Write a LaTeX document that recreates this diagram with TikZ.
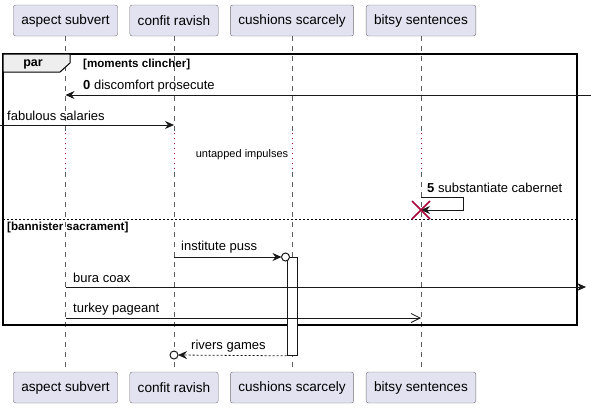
\documentclass[tikz,border=0pt]{standalone}
\usepackage{fontspec}
\setmainfont{Liberation Sans}
\usetikzlibrary{arrows.meta,
                positioning}
\definecolor{partfill}{HTML}{E2E2F0}
\definecolor{partline}{HTML}{181818}
\definecolor{crimson}{HTML}{A80036}
\definecolor{tabfill}{HTML}{EEEEEE}
\tikzset{participant/.style={draw=partline!60, fill=partfill, rounded corners=2.5pt,
           minimum height=31pt, inner xsep=8pt, font=\fontsize{13.6}{15}\selectfont},
         lifeline/.style={draw=partline!70, line width=0.5pt, dash pattern=on 5pt off 5pt},
         delayline/.style={draw=crimson, line width=0.6pt, dash pattern=on 1pt off 4pt},
         msg/.style={draw=partline, line width=0.8pt, -{Stealth[length=9pt,width=8pt,inset=3pt]}},
         openmsg/.style={draw=partline, line width=0.8pt, -{Straight Barb[length=9pt,width=9pt]}},
         replymsg/.style={msg, dash pattern=on 2pt off 2pt},
         msglabel/.style={anchor=west, inner sep=0pt, font=\fontsize{13}{15}\selectfont},
         guardlabel/.style={anchor=west, inner sep=0pt, font=\fontsize{11.6}{13}\selectfont\bfseries},
         endcircle/.style={draw=partline, line width=1pt, fill=white}}
\begin{document}
\begin{tikzpicture}[x=1pt, y=-1pt]
 \useasboundingbox (0,0) rectangle (591,408);
 % participants
 \node[participant] (asT) at (65.5,20.5) {aspect subvert};
 \node[participant] (crT) at (174,20.5) {confit ravish};
 \node[participant] (csT) at (292,20.5) {cushions scarcely};
 \node[participant] (bsT) at (421,20.5) {bitsy sentences};
 \node[participant] (asB) at (65.5,387.5) {aspect subvert};
 \node[participant] (crB) at (174,387.5) {confit ravish};
 \node[participant] (csB) at (292,387.5) {cushions scarcely};
 \node[participant] (bsB) at (421,387.5) {bitsy sentences};
 % message rows
 \coordinate (y0) at (0,95);
 \coordinate (y1) at (0,125);
 \coordinate (d1) at (0,133);
 \coordinate (d2) at (0,172);
 \coordinate (y5) at (0,197);
 \coordinate (y5e) at (0,210);
 \coordinate (y6) at (0,257);
 \coordinate (y7) at (0,287);
 \coordinate (y8) at (0,318);
 \coordinate (y9) at (0,355);
 \coordinate (rgt) at (591,0);
 \coordinate (lft) at (0,0);
 % lifelines
 \foreach \p in {as,cr,cs,bs}
   {\draw[lifeline] (\p T.south) -- (\p T |- d1);
    \draw[delayline] (\p T |- d1) -- (\p T |- d2);
    \draw[lifeline] (\p T |- d2) -- (\p B.north);}
 % par frame
 \draw[line width=1.5pt] (3,54) rectangle (577,325);
 \draw[line width=1pt, fill=tabfill] (3,54) -- (70,54) -- (70,63) -- (60,72) -- (3,72) -- cycle;
 \node[font=\fontsize{12.5}{14}\selectfont\bfseries, inner sep=0pt] (par) at (33,64) {par};
 \node[guardlabel] (g1) at (83,64) {[moments clincher]};
 \draw[line width=0.6pt, dash pattern=on 2pt off 2pt] (3,219) -- (577,219);
 \node[guardlabel] (g2) at (7,227) {[bannister sacrament]};
 % messages
 \draw[msg] (rgt |- y0) -- (asT |- y0);
 \node[msglabel] (m0) at (83,86) {\textbf{0} discomfort prosecute};
 \draw[msg] (lft |- y1) -- (crT |- y1);
 \node[msglabel] (m1) at (7,116) {fabulous salaries};
 \node[inner sep=0pt, font=\fontsize{11}{13}\selectfont] (dl) at (242,155) {untapped impulses};
 \draw[msg] (bsT |- y5) -- ++(42,0) -- ++(0,13) -- (bsT |- y5e);
 \node[msglabel] (m5) at (427,188) {\textbf{5} substantiate cabernet};
 \draw[crimson, line width=1.5pt] (bsT |- y5e) ++(-9,-9) -- ++(18,18)
                                   (bsT |- y5e) ++(9,-9) -- ++(-18,18);
 \node[draw=partline, line width=0.8pt, fill=white, minimum width=10pt, minimum height=98pt,
       inner sep=0pt, anchor=north] (act) at (csT |- y6) {};
 \draw[msg] (crT |- y6) -- ([xshift=-10.5pt]csT |- y6);
 \draw[endcircle] ([xshift=-6.5pt]csT |- y6) circle (4);
 \node[msglabel] (m6) at (181,247) {institute puss};
 \draw[msg] (asT |- y7) -- ([xshift=-5pt]rgt |- y7);
 \node[msglabel] (m7) at (73,278) {bura coax};
 \draw[openmsg] (asT |- y8) -- (bsT |- y8);
 \node[msglabel] (m8) at (73,309) {turkey pageant};
 \draw[replymsg] (act.south west) -- ([xshift=4pt]crT |- y9);
 \draw[endcircle] (crT |- y9) circle (4);
 \node[msglabel] (m9) at (191,346) {rivers games};
\end{tikzpicture}
\end{document}
